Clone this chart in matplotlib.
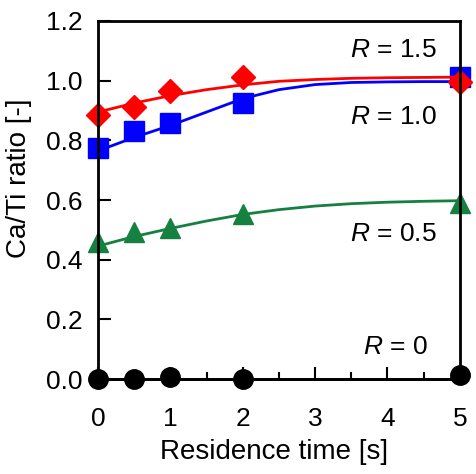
import matplotlib
matplotlib.use('Agg')
import matplotlib.pyplot as plt
from matplotlib.ticker import MultipleLocator, FormatStrFormatter

plt.rcParams['font.family'] = ['Liberation Sans', 'DejaVu Sans']
plt.rcParams['mathtext.fontset'] = 'custom'
plt.rcParams['mathtext.it'] = 'Liberation Sans:italic'
plt.rcParams['mathtext.rm'] = 'Liberation Sans'

# measured points
t = [0, 0.5, 1, 2, 5]
r0 = [0.0, 0.0, 0.008, 0.0, 0.013]
r05 = [0.46, 0.494, 0.505, 0.555, 0.59]
r10 = [0.773, 0.832, 0.858, 0.924, 1.013]
r15 = [0.885, 0.913, 0.966, 1.011, 0.997]

# fitted curves
t_fit = [0, 0.5, 1, 1.5, 2, 2.5, 3, 3.5, 4, 4.5, 5]
f0 = [0, 0, 0, 0, 0, 0, 0, 0, 0, 0, 0]
f05 = [0.446, 0.478, 0.505, 0.530, 0.552, 0.568, 0.580, 0.588, 0.593, 0.596, 0.598]
f10 = [0.765, 0.81, 0.85, 0.895, 0.94, 0.97, 0.987, 0.994, 0.996, 0.997, 0.997]
f15 = [0.895, 0.925, 0.950, 0.970, 0.986, 0.998, 1.004, 1.008, 1.010, 1.011, 1.012]

labels = ['$R$ = 0', '$R$ = 0.5', '$R$ = 1.0', '$R$ = 1.5']

fig = plt.figure(figsize=(4.76, 4.74), dpi=100)
ax = fig.add_axes([0.206, 0.2, 0.76, 0.7557])

green = '#168040'
fs = 19
ax.plot(t_fit, f0, color='k', lw=2, clip_on=False)
ax.plot(t, r0, 'o', color='k', ms=14, clip_on=False)
ax.plot(t_fit, f05, color=green, lw=2, clip_on=False)
ax.plot(t, r05, '^', color=green, ms=15, clip_on=False)
ax.plot(t_fit, f10, color='#0000ff', lw=2, clip_on=False)
ax.plot(t, r10, 's', color='#0000ff', ms=14, clip_on=False)
ax.plot(t_fit, f15, color='#ff0000', lw=2, clip_on=False)
ax.plot(t, r15, 'D', color='#ff0000', ms=12, clip_on=False)

ax.set_xlim(0, 5)
ax.set_ylim(0, 1.2)
ax.xaxis.set_major_locator(MultipleLocator(1))
ax.xaxis.set_minor_locator(MultipleLocator(0.5))
ax.yaxis.set_major_locator(MultipleLocator(0.2))
ax.yaxis.set_major_formatter(FormatStrFormatter('%.1f'))
ax.tick_params(which='major', direction='in', length=9, width=1.5, labelsize=fs)
ax.tick_params(axis='x', which='major', pad=20)
ax.tick_params(axis='y', which='major', pad=11)
ax.tick_params(which='minor', direction='in', length=5, width=1.5)
for s in ax.spines.values():
    s.set_linewidth(2)

ax.set_xlabel('Residence time [s]', fontsize=20)
ax.set_ylabel('Ca/Ti ratio [-]', fontsize=20)
ax.xaxis.set_label_coords(0.486, -0.168)
ax.yaxis.set_label_coords(-0.182, 0.56)

ax.text(4.68, 1.103, labels[3], fontsize=fs, ha='right', va='center')
ax.text(4.68, 0.878, labels[2], fontsize=fs, ha='right', va='center')
ax.text(4.68, 0.486, labels[1], fontsize=fs, ha='right', va='center')
ax.text(4.56, 0.108, labels[0], fontsize=fs, ha='right', va='center')

fig.savefig('out.png', dpi=100)
